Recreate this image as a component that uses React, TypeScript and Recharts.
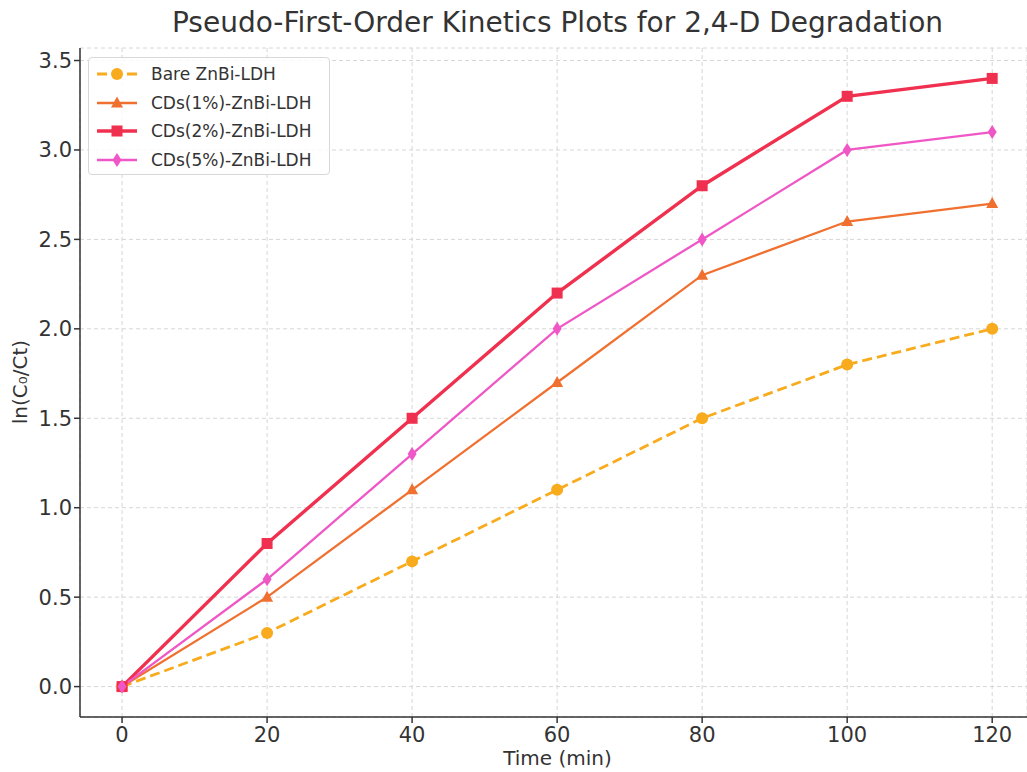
import React from "react";
import { LineChart, Line, XAxis, YAxis, CartesianGrid } from "recharts";

const times = [0, 20, 40, 60, 80, 100, 120];
const bare = [0, 0.3, 0.7, 1.1, 1.5, 1.8, 2.0];
const cds1 = [0, 0.5, 1.1, 1.7, 2.3, 2.6, 2.7];
const cds2 = [0, 0.8, 1.5, 2.2, 2.8, 3.3, 3.4];
const cds5 = [0, 0.6, 1.3, 2.0, 2.5, 3.0, 3.1];
const xTicks = [0, 20, 40, 60, 80, 100, 120];
const yTicks = [0, 0.5, 1.0, 1.5, 2.0, 2.5, 3.0, 3.5];

const data = times.map((t, i) => ({ t, bare: bare[i], cds1: cds1[i], cds2: cds2[i], cds5: cds5[i] }));

const series = [
  { key: "bare", name: "Bare ZnBi-LDH", color: "#f8ab1c", width: 2.8, dash: "10 5", shape: "circle" },
  { key: "cds1", name: "CDs(1%)-ZnBi-LDH", color: "#f07030", width: 2.3, dash: undefined, shape: "triangle" },
  { key: "cds2", name: "CDs(2%)-ZnBi-LDH", color: "#f0304f", width: 3.4, dash: undefined, shape: "square" },
  { key: "cds5", name: "CDs(5%)-ZnBi-LDH", color: "#f057c6", width: 2.3, dash: undefined, shape: "diamond" },
];

const FONT = "'DejaVu Sans', sans-serif";

function marker(shape: string, color: string, cx: number, cy: number, key?: any) {
  if (shape === "circle") return <circle key={key} cx={cx} cy={cy} r={6} fill={color} />;
  if (shape === "triangle")
    return <path key={key} d={`M${cx},${cy - 6.5} L${cx + 6},${cy + 4.5} L${cx - 6},${cy + 4.5} Z`} fill={color} />;
  if (shape === "square") return <rect key={key} x={cx - 5.5} y={cy - 5.5} width={11} height={11} fill={color} />;
  return <path key={key} d={`M${cx},${cy - 7} L${cx + 4.5},${cy} L${cx},${cy + 7} L${cx - 4.5},${cy} Z`} fill={color} />;
}

const makeDot = (shape: string, color: string) => (props: any) => {
  const { cx, cy, index } = props;
  if (cx == null || cy == null) return <g key={index} />;
  return marker(shape, color, cx, cy, index);
};

function LegendBox() {
  return (
    <div
      style={{
        position: "absolute",
        left: 88,
        top: 57,
        width: 242,
        height: 118,
        boxSizing: "border-box",
        background: "rgba(255,255,255,0.85)",
        border: "1px solid #d8d8d8",
        borderRadius: 4,
        padding: "2px 0 0 6px",
        fontFamily: FONT,
        fontSize: 17,
        color: "#333",
      }}
    >
      {series.map((s) => (
        <div key={s.key} style={{ display: "flex", alignItems: "center", height: 28.5 }}>
          <svg width={44} height={20} style={{ marginRight: 12, flex: "none" }}>
            <line x1={2} y1={10} x2={42} y2={10} stroke={s.color} strokeWidth={s.width} strokeDasharray={s.dash} />
            {marker(s.shape, s.color, 22, 10)}
          </svg>
          <span style={{ whiteSpace: "nowrap" }}>{s.name}</span>
        </div>
      ))}
    </div>
  );
}

export default function App() {
  return (
    <div style={{ position: "absolute", left: 0, top: 0, width: 1027, height: 772, background: "#fff", overflow: "hidden" }}>
      <LineChart width={1027} height={772} data={data} margin={{ top: 48, right: 0, left: 0, bottom: 0 }}>
        <CartesianGrid stroke="#d6d6d6" strokeDasharray="4 3" />
        <XAxis
          dataKey="t"
          type="number"
          domain={[-5.8, 124.8]}
          ticks={xTicks}
          allowDataOverflow
          stroke="#333"
          strokeWidth={1.5}
          tickSize={6}
          tickMargin={4}
          tick={{ fill: "#333", fontSize: 21, fontFamily: FONT }}
          height={55}
        />
        <YAxis
          type="number"
          domain={[-0.17, 3.57]}
          ticks={yTicks}
          allowDataOverflow
          tickFormatter={(v: number) => v.toFixed(1)}
          stroke="#333"
          strokeWidth={1.5}
          tickSize={6}
          width={80}
          tick={{ fill: "#333", fontSize: 21, fontFamily: FONT }}
        />
        {series.map((s) => (
          <Line
            key={s.key}
            dataKey={s.key}
            name={s.name}
            type="linear"
            stroke={s.color}
            strokeWidth={s.width}
            strokeDasharray={s.dash}
            dot={makeDot(s.shape, s.color)}
            activeDot={false}
            isAnimationActive={false}
          />
        ))}
      </LineChart>
      <LegendBox />
      <div
        style={{
          position: "absolute",
          left: 80,
          width: 955,
          top: 6,
          textAlign: "center",
          fontFamily: FONT,
          fontSize: 28,
          color: "#333",
        }}
      >
        Pseudo-First-Order Kinetics Plots for 2,4-D Degradation
      </div>
      <div
        style={{
          position: "absolute",
          left: 20,
          top: 382,
          transform: "translate(-50%, -50%) rotate(-90deg)",
          fontFamily: FONT,
          fontSize: 20,
          color: "#333",
          whiteSpace: "nowrap",
        }}
      >
        ln(C₀/Ct)
      </div>
      <div
        style={{
          position: "absolute",
          left: 80,
          width: 955,
          top: 746,
          textAlign: "center",
          fontFamily: FONT,
          fontSize: 20,
          color: "#333",
        }}
      >
        Time (min)
      </div>
    </div>
  );
}
